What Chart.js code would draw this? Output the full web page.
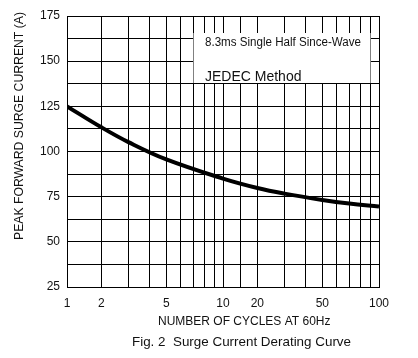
<!DOCTYPE html>
<html>
<head>
<meta charset="utf-8">
<script src="https://cdn.jsdelivr.net/npm/chart.js@4.4.1/dist/chart.umd.min.js"></script>
<style>
    html, body { margin: 0; padding: 0; background: #fff; }
    #wrap { width: 418px; height: 358px; position: relative; }
</style>
</head>
<body>
<div id="wrap"><canvas id="surgeChart" width="418" height="358"></canvas></div>
<script>
// Data
const cycles = [1, 2, 3, 5, 10, 20, 30, 50, 70, 100];
const peakCurrent = [125, 113.4, 105.2, 95.6, 85.0, 79.8, 76.7, 73.2, 71.2, 69.6];
const xTickLabels = [1, 2, 5, 10, 20, 50, 100];
const yTickLabels = [25, 50, 75, 100, 125, 150, 175];
const legendLines = ["8.3ms Single Half Since-Wave", "JEDEC Method"];

const FONT = "'Liberation Sans', Arial, sans-serif";
const INK = '#111';

// The printed log paper is slightly squeezed inside each decade
class WarpedLogScale extends Chart.LogarithmicScale {
    static id = 'warpedLog';
    static defaults = Chart.LogarithmicScale.defaults;

    warp(value) {
        const lg = Math.log10(value);
        const whole = Math.floor(lg + 1e-9);
        const frac = Math.max(0, lg - whole);
        return whole + Math.pow(frac, 1.26);
    }

    getPixelForValue(value) {
        if (value === undefined || value === 0) value = this.min;
        if (value === null || isNaN(value)) return NaN;
        const a = this.warp(this.min), b = this.warp(this.max);
        return this.getPixelForDecimal((this.warp(value) - a) / (b - a));
    }
}
Chart.register(WarpedLogScale);

// Legend box, axis titles and caption
const textPlugin = {
    id: 'textPlugin',
    beforeDatasetsDraw(chart) {
        const ctx = chart.ctx;
        ctx.save();
        ctx.fillStyle = '#fff';
        ctx.fillRect(193.5, 33, 177, 50);
        ctx.fillStyle = INK;
        ctx.textBaseline = 'middle';
        ctx.textAlign = 'left';
        ctx.font = '12.5px ' + FONT;
        ctx.fillText(legendLines[0], 205, 43, 156);
        ctx.font = '14px ' + FONT;
        ctx.fillText(legendLines[1], 205, 77.5, 98);
        ctx.restore();
    },
    afterDraw(chart) {
        const ctx = chart.ctx;
        ctx.save();
        ctx.fillStyle = INK;
        ctx.textBaseline = 'middle';

        ctx.save();
        ctx.translate(20, 126);
        ctx.rotate(-Math.PI / 2);
        ctx.textAlign = 'center';
        ctx.font = '12.5px ' + FONT;
        ctx.fillText('PEAK FORWARD SURGE CURRENT (A)', 0, 0, 228);
        ctx.restore();

        ctx.textAlign = 'left';
        ctx.font = '12px ' + FONT;
        ctx.fillText('NUMBER OF CYCLES AT 60Hz', 158, 322, 194);
        ctx.font = '13.5px ' + FONT;
        ctx.fillText('Fig. 2  Surge Current Derating Curve', 132, 342, 219);
        ctx.restore();
    }
};

const ctx = document.getElementById('surgeChart').getContext('2d');
new Chart(ctx, {
    type: 'line',
    data: {
        datasets: [{
            data: cycles.map((c, i) => ({ x: c, y: peakCurrent[i] })),
            borderColor: '#000',
            borderWidth: 4,
            pointRadius: 0,
            fill: false,
            tension: 0.4
        }]
    },
    options: {
        responsive: false,
        animation: false,
        layout: { padding: { left: 0, top: 16, right: 39, bottom: 0 } },
        plugins: { legend: { display: false }, tooltip: { enabled: false }, title: { display: false } },
        scales: {
            x: {
                type: 'warpedLog',
                min: 1,
                max: 100,
                afterFit: s => { s.height = 71; },
                border: { display: true, color: '#000', width: 1 },
                grid: { color: '#000', lineWidth: 1, drawTicks: false },
                ticks: {
                    autoSkip: false,
                    maxRotation: 0,
                    padding: 9,
                    color: INK,
                    font: { family: FONT, size: 12 },
                    callback: v => xTickLabels.includes(v) ? String(v) : ''
                }
            },
            y: {
                type: 'linear',
                min: 25,
                max: 175,
                afterFit: s => { s.width = 67; },
                border: { display: true, color: '#000', width: 1 },
                grid: { color: '#000', lineWidth: 1, drawTicks: false },
                ticks: {
                    stepSize: 12.5,
                    padding: 7,
                    color: INK,
                    font: { family: FONT, size: 12 },
                    callback: v => yTickLabels.includes(v) ? String(v) : ''
                }
            }
        }
    },
    plugins: [textPlugin]
});
</script>
</body>
</html>
